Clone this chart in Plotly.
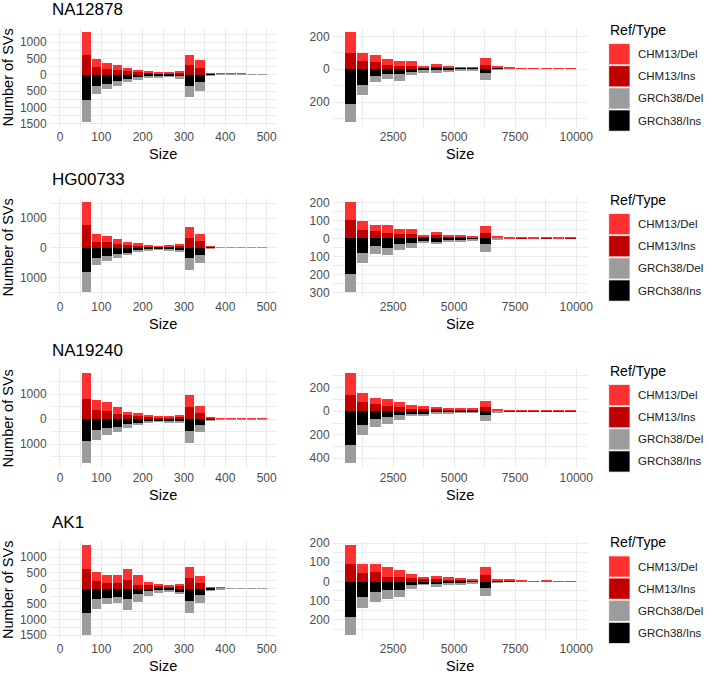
import plotly.graph_objects as go

# ---------------- data ----------------
SAMPLES = ["NA12878", "HG00733", "NA19240", "AK1"]
SERIES = ["CHM13/Del", "CHM13/Ins", "GRCh38/Del", "GRCh38/Ins"]
SERIES_COLORS = ["#FF3030", "#C00000", "#9C9C9C", "#000000"]
LEGEND_TITLE = "Ref/Type"

SHORT_BIN_STARTS = [50, 75, 100, 125, 150, 175, 200, 225, 250, 275, 300, 325, 350, 375, 400, 425, 450, 475]
SHORT_BIN_WIDTH = 25
LONG_BIN_STARTS = [500, 1000, 1500, 2000, 2500, 3000, 3500, 4000, 4500, 5000, 5500, 6000, 6500,
                   7000, 7500, 8000, 8500, 9000, 9500]
LONG_BIN_WIDTH = 500

SHORT_X_TICKS = [0, 100, 200, 300, 400, 500]
SHORT_X_MINOR = [50, 150, 250, 350, 450]
LONG_X_TICKS = [2500, 5000, 7500, 10000]
LONG_X_MINOR = [1250, 3750, 6250, 8750]
SHORT_X_RANGE = [-25, 525]
LONG_X_RANGE = [25, 10475]

# NA12878
NA12878_SHORT_CHM13_DEL = [700, 250, 190, 170, 100, 80, 50, 40, 30, 50, 310, 240, 20, 20, 17, 10, 9, 7]
NA12878_SHORT_CHM13_INS = [590, 240, 170, 140, 100, 70, 50, 40, 40, 60, 300, 210, 30, 20, 18, 10, 9, 8]
NA12878_SHORT_GRCH38_DEL = [680, 250, 160, 140, 100, 60, 30, 30, 20, 50, 350, 260, 10, 3, 2, 2, 1, 1]
NA12878_SHORT_GRCH38_INS = [780, 340, 280, 200, 140, 90, 60, 50, 50, 70, 340, 230, 20, 5, 4, 3, 2, 2]
NA12878_LONG_CHM13_DEL = [123, 49, 41, 38, 30, 30, 8, 18, 8, 6, 4, 40, 8, 3, 3, 1, 1, 1, 1]
NA12878_LONG_CHM13_INS = [99, 48, 42, 22, 18, 16, 6, 14, 8, 4, 4, 26, 6, 3, 2, 0, 0, 0, 0]
NA12878_LONG_GRCH38_DEL = [113, 58, 40, 36, 40, 20, 12, 12, 8, 4, 2, 46, 2, 0, 0, 0, 0, 0, 0]
NA12878_LONG_GRCH38_INS = [212, 100, 42, 28, 32, 18, 10, 12, 8, 6, 6, 24, 4, 0, 0, 0, 0, 0, 0]

# HG00733
HG00733_SHORT_CHM13_DEL = [750, 280, 210, 180, 110, 90, 45, 30, 30, 55, 360, 250, 20, 7, 6, 6, 5, 5]
HG00733_SHORT_CHM13_INS = [770, 190, 190, 120, 80, 55, 35, 25, 35, 65, 320, 220, 25, 8, 6, 6, 5, 5]
HG00733_SHORT_GRCH38_DEL = [680, 260, 190, 135, 85, 40, 15, 10, 25, 40, 390, 260, 10, 2, 2, 1, 1, 1]
HG00733_SHORT_GRCH38_INS = [820, 330, 270, 215, 165, 110, 65, 55, 55, 90, 350, 250, 20, 3, 2, 2, 2, 1]
HG00733_LONG_CHM13_DEL = [100, 49, 33, 40, 31, 28, 9, 17, 9, 9, 6, 36, 6, 2, 3, 2, 3, 2, 3]
HG00733_LONG_CHM13_INS = [100, 47, 40, 33, 24, 25, 11, 18, 9, 9, 7, 31, 7, 2, 4, 2, 4, 2, 4]
HG00733_LONG_GRCH38_DEL = [100, 54, 45, 44, 29, 27, 8, 13, 9, 5, 6, 46, 3, 0, 0, 0, 0, 0, 0]
HG00733_LONG_GRCH38_INS = [200, 82, 42, 51, 33, 24, 16, 18, 13, 11, 5, 29, 2, 0, 0, 0, 0, 0, 0]

# NA19240
NA19240_SHORT_CHM13_DEL = [1015, 420, 365, 275, 130, 95, 65, 40, 50, 65, 465, 295, 30, 10, 10, 8, 8, 7]
NA19240_SHORT_CHM13_INS = [805, 350, 310, 220, 170, 140, 90, 65, 80, 105, 495, 235, 50, 20, 15, 12, 10, 8]
NA19240_SHORT_GRCH38_DEL = [910, 390, 275, 220, 130, 75, 40, 25, 40, 50, 480, 275, 20, 3, 3, 2, 2, 2]
NA19240_SHORT_GRCH38_INS = [860, 430, 365, 300, 210, 170, 105, 90, 90, 105, 480, 235, 40, 5, 4, 3, 3, 2]
NA19240_LONG_CHM13_DEL = [181, 80, 53, 56, 48, 34, 22, 20, 11, 14, 14, 50, 8, 4, 4, 3, 4, 3, 1]
NA19240_LONG_CHM13_INS = [139, 78, 61, 44, 33, 22, 22, 19, 11, 11, 11, 39, 6, 4, 4, 3, 4, 3, 2]
NA19240_LONG_GRCH38_DEL = [152, 84, 67, 61, 45, 16, 14, 11, 6, 3, 6, 47, 2, 0, 0, 0, 0, 0, 0]
NA19240_LONG_GRCH38_INS = [292, 119, 64, 47, 33, 28, 28, 14, 11, 11, 8, 36, 6, 0, 0, 0, 0, 0, 0]

# AK1
AK1_SHORT_CHM13_DEL = [740, 310, 240, 240, 375, 295, 105, 70, 60, 60, 345, 220, 20, 10, 8, 7, 6, 5]
AK1_SHORT_CHM13_INS = [645, 240, 200, 200, 270, 135, 105, 85, 75, 105, 355, 175, 30, 15, 12, 8, 6, 5]
AK1_SHORT_GRCH38_DEL = [730, 310, 200, 180, 355, 250, 145, 80, 55, 70, 385, 230, 20, 3, 2, 2, 1, 1]
AK1_SHORT_GRCH38_INS = [760, 335, 290, 260, 325, 180, 85, 55, 60, 95, 405, 210, 40, 5, 4, 3, 2, 2]
AK1_LONG_CHM13_DEL = [96, 45, 38, 50, 36, 21, 12, 15, 12, 11, 5, 42, 8, 6, 3, 1, 3, 1, 1]
AK1_LONG_CHM13_INS = [94, 46, 53, 27, 27, 22, 14, 14, 12, 10, 7, 38, 9, 6, 4, 0, 4, 0, 2]
AK1_LONG_GRCH38_DEL = [97, 58, 49, 47, 35, 24, 3, 14, 5, 2, 4, 44, 2, 0, 0, 0, 0, 0, 0]
AK1_LONG_GRCH38_INS = [183, 77, 55, 44, 44, 15, 12, 12, 10, 10, 5, 31, 3, 1, 0, 0, 0, 0, 0]

# y-axis tick values (labels shown as absolute counts)
SHORT_Y_TICKS = {
    "NA12878": [-1500, -1000, -500, 0, 500, 1000],
    "HG00733": [-1000, 0, 1000],
    "NA19240": [-1000, 0, 1000],
    "AK1": [-1500, -1000, -500, 0, 500, 1000],
}
LONG_Y_TICKS = {
    "NA12878": [-200, 0, 200],
    "HG00733": [-300, -200, -100, 0, 100, 200],
    "NA19240": [-400, -200, 0, 200],
    "AK1": [-200, -100, 0, 100, 200],
}

DATA = {
    "NA12878": {
        "short": (NA12878_SHORT_CHM13_DEL, NA12878_SHORT_CHM13_INS, NA12878_SHORT_GRCH38_DEL, NA12878_SHORT_GRCH38_INS),
        "long": (NA12878_LONG_CHM13_DEL, NA12878_LONG_CHM13_INS, NA12878_LONG_GRCH38_DEL, NA12878_LONG_GRCH38_INS),
    },
    "HG00733": {
        "short": (HG00733_SHORT_CHM13_DEL, HG00733_SHORT_CHM13_INS, HG00733_SHORT_GRCH38_DEL, HG00733_SHORT_GRCH38_INS),
        "long": (HG00733_LONG_CHM13_DEL, HG00733_LONG_CHM13_INS, HG00733_LONG_GRCH38_DEL, HG00733_LONG_GRCH38_INS),
    },
    "NA19240": {
        "short": (NA19240_SHORT_CHM13_DEL, NA19240_SHORT_CHM13_INS, NA19240_SHORT_GRCH38_DEL, NA19240_SHORT_GRCH38_INS),
        "long": (NA19240_LONG_CHM13_DEL, NA19240_LONG_CHM13_INS, NA19240_LONG_GRCH38_DEL, NA19240_LONG_GRCH38_INS),
    },
    "AK1": {
        "short": (AK1_SHORT_CHM13_DEL, AK1_SHORT_CHM13_INS, AK1_SHORT_GRCH38_DEL, AK1_SHORT_GRCH38_INS),
        "long": (AK1_LONG_CHM13_DEL, AK1_LONG_CHM13_INS, AK1_LONG_GRCH38_DEL, AK1_LONG_GRCH38_INS),
    },
}

# ---------------- layout geometry (pixels) ----------------
W, H = 708, 677
FONT = "Liberation Sans, Arial, Helvetica, sans-serif"
ROW_TOPS = [24.5, 196.5, 369.5, 543.0]
PANEL_H = 100.0
COL_X = [(50.0, 279.0), (335.0, 592.0)]
LEG_KEY_X = (613.0, 634.5)
LEG_LABEL_X = 641.0
BAR_FILL = 0.9
GRID = "#EBEBEB"
TICK_COLOR = "#4D4D4D"


def px_x(p):
    return p / W


def px_y(p):
    return 1 - p / H


fig = go.Figure()
layout = {}
annotations = []
shapes = []

for r, sample in enumerate(SAMPLES):
    top = ROW_TOPS[r]
    bottom = top + PANEL_H
    for c, kind in enumerate(["short", "long"]):
        k = 2 * r + c + 1
        xname = "x" if k == 1 else f"x{k}"
        yname = "y" if k == 1 else f"y{k}"
        chm_del, chm_ins, grc_del, grc_ins = DATA[sample][kind]
        starts = SHORT_BIN_STARTS if kind == "short" else LONG_BIN_STARTS
        bw = SHORT_BIN_WIDTH if kind == "short" else LONG_BIN_WIDTH
        centers = [s + bw / 2 for s in starts]
        # stacking order: Ins next to zero, Del outside
        stack = [
            (SERIES[1], SERIES_COLORS[1], chm_ins, 1),
            (SERIES[0], SERIES_COLORS[0], chm_del, 1),
            (SERIES[3], SERIES_COLORS[3], grc_ins, -1),
            (SERIES[2], SERIES_COLORS[2], grc_del, -1),
        ]
        for name, color, vals, sign in stack:
            fig.add_trace(go.Bar(
                x=centers, y=[sign * v for v in vals], width=[bw * BAR_FILL] * len(vals),
                name=name, marker=dict(color=color, line=dict(width=0)),
                xaxis=xname, yaxis=yname, showlegend=False,
            ))
        pos = max(a + b for a, b in zip(chm_del, chm_ins))
        neg = max(a + b for a, b in zip(grc_del, grc_ins))
        pad = 0.05 * (pos + neg)
        yr = [-neg - pad, pos + pad]
        yt = SHORT_Y_TICKS[sample] if kind == "short" else LONG_Y_TICKS[sample]
        step = yt[1] - yt[0]
        yminor = [v + step / 2 for v in yt] + [yt[0] - step / 2]
        x0, x1 = COL_X[c]
        xaxis_key = "xaxis" if k == 1 else f"xaxis{k}"
        yaxis_key = "yaxis" if k == 1 else f"yaxis{k}"
        xt = SHORT_X_TICKS if kind == "short" else LONG_X_TICKS
        layout[xaxis_key] = dict(
            domain=[px_x(x0), px_x(x1)], anchor=yname,
            range=SHORT_X_RANGE if kind == "short" else LONG_X_RANGE,
            tickmode="array", tickvals=xt, ticktext=[str(v) for v in xt],
            showgrid=True, gridcolor=GRID, gridwidth=1.1, zeroline=False, showline=False,
            ticks="", ticklabelstandoff=1,
            tickfont=dict(family=FONT, size=12, color=TICK_COLOR),
            minor=dict(tickmode="array", tickvals=SHORT_X_MINOR if kind == "short" else LONG_X_MINOR,
                       showgrid=True, gridcolor=GRID, gridwidth=0.6, ticks=""),
            fixedrange=True,
        )
        layout[yaxis_key] = dict(
            domain=[px_y(bottom), px_y(top)], anchor=xname, range=yr,
            tickmode="array", tickvals=yt, ticktext=[str(abs(v)) for v in yt],
            showgrid=True, gridcolor=GRID, gridwidth=1.1, zeroline=False, showline=False,
            ticks="", ticklabelstandoff=2,
            tickfont=dict(family=FONT, size=12, color=TICK_COLOR),
            minor=dict(tickmode="array", tickvals=yminor,
                       showgrid=True, gridcolor=GRID, gridwidth=0.6, ticks=""),
            fixedrange=True,
        )
        # x-axis title
        annotations.append(dict(
            text="Size", xref="paper", yref="paper", x=px_x((x0 + x1) / 2), y=px_y(bottom + 27),
            xanchor="center", yanchor="middle", showarrow=False,
            font=dict(family=FONT, size=14.5, color="#000000"),
        ))
    # row title
    annotations.append(dict(
        text=sample, xref="paper", yref="paper", x=px_x(50), y=px_y(top - 18.5),
        xanchor="left", yanchor="middle", showarrow=False,
        font=dict(family=FONT, size=17, color="#000000"),
    ))
    # y-axis title
    annotations.append(dict(
        text="Number of SVs", xref="paper", yref="paper", x=px_x(8), y=px_y(top + PANEL_H / 2),
        xanchor="center", yanchor="middle", showarrow=False, textangle=-90,
        font=dict(family=FONT, size=14.5, color="#000000"),
    ))
    # legend (one per row)
    annotations.append(dict(
        text=LEGEND_TITLE, xref="paper", yref="paper", x=px_x(LEG_KEY_X[0] - 1), y=px_y(top + 1.5),
        xanchor="left", yanchor="middle", showarrow=False,
        font=dict(family=FONT, size=14, color="#000000"),
    ))
    for i, (name, color) in enumerate(zip(SERIES, SERIES_COLORS)):
        ky0 = top + 15.5 + i * 22.4
        ky1 = ky0 + 21.5
        shapes.append(dict(
            type="rect", xref="paper", yref="paper",
            x0=px_x(LEG_KEY_X[0]), x1=px_x(LEG_KEY_X[1]), y0=px_y(ky1), y1=px_y(ky0),
            fillcolor=color, line=dict(color="white", width=0.8),
        ))
        annotations.append(dict(
            text=name, xref="paper", yref="paper", x=px_x(LEG_LABEL_X), y=px_y((ky0 + ky1) / 2),
            xanchor="left", yanchor="middle", showarrow=False,
            font=dict(family=FONT, size=11.5, color="#1A1A1A"),
        ))

fig.update_layout(
    width=W, height=H, autosize=False,
    margin=dict(l=0, r=0, t=0, b=0, pad=0),
    paper_bgcolor="white", plot_bgcolor="white",
    barmode="relative", bargap=0,
    showlegend=False,
    annotations=annotations, shapes=shapes,
    font=dict(family=FONT),
    **layout,
)

fig.write_html("out.html", config={"displayModeBar": False},
               post_script="document.body.style.margin='0';")
